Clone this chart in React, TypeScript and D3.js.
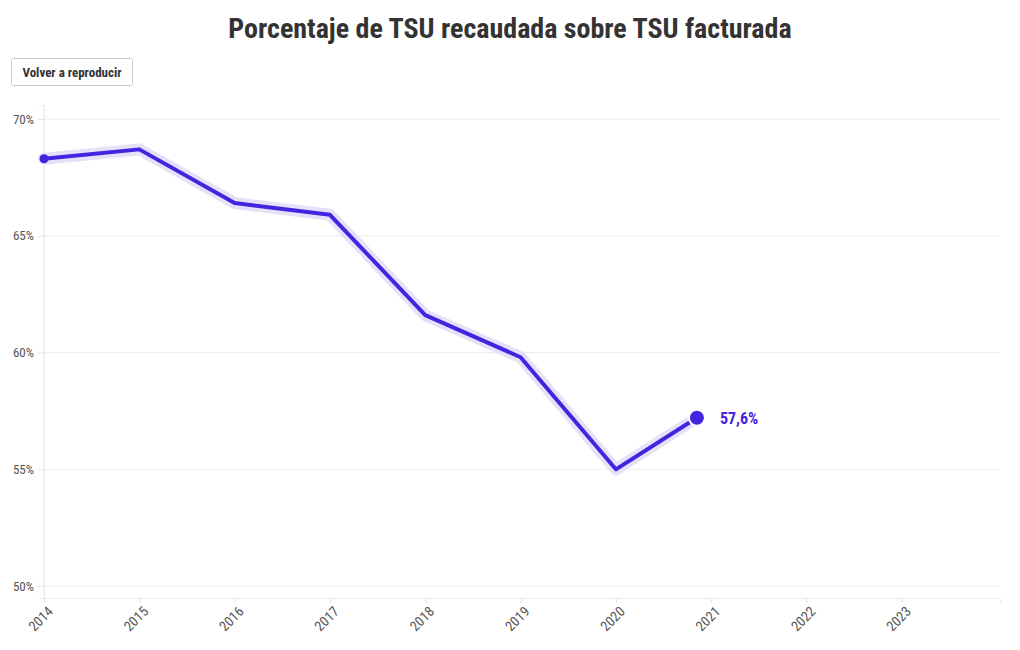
import * as d3 from 'd3';
import React, { useEffect, useRef } from 'react';

const years = [2014, 2015, 2016, 2017, 2018, 2019, 2020, 2021];
const recaudado = [68.3, 68.7, 66.4, 65.9, 61.6, 59.8, 55.0, 57.6];
const yTicks = [50, 55, 60, 65, 70];
const xTicks = [2014, 2015, 2016, 2017, 2018, 2019, 2020, 2021, 2022, 2023];
// the replay animation is caught part way into the last segment
const progress = 0.85;

const FONT = "'Roboto Condensed', 'Liberation Sans Narrow', 'DejaVu Sans Condensed', Roboto, sans-serif";
const LINE = '#4524e0';

const App = () => {
    const ref = useRef(null);
    const width = 1020, height = 650;
    const margin = { top: 105, right: 20, bottom: 52, left: 44 };

    useEffect(() => {
        const svg = d3.select(ref.current);
        svg.selectAll('*').remove();

        const x = d3.scaleLinear().domain([2014, 2024.03]).range([margin.left, width - margin.right]);
        const y = d3.scaleLinear().domain([49.49, 70.6]).range([height - margin.bottom, margin.top]);

        // title
        svg.append('text')
            .attr('x', 510).attr('y', 38)
            .attr('text-anchor', 'middle')
            .attr('font-family', FONT).attr('font-weight', 700).attr('font-size', 28)
            .attr('fill', '#333')
            .text('Porcentaje de TSU recaudada sobre TSU facturada');

        // replay button
        const btn = svg.append('g').attr('transform', 'translate(11,58)');
        btn.append('rect').attr('x', 0.5).attr('y', 0.5).attr('width', 121).attr('height', 27)
            .attr('rx', 2).attr('fill', '#fff').attr('stroke', '#c8c8c8');
        btn.append('text').attr('x', 61).attr('y', 18.5).attr('text-anchor', 'middle')
            .attr('font-family', FONT).attr('font-weight', 700).attr('font-size', 13).attr('fill', '#333')
            .text('Volver a reproducir');

        // grid
        const grid = svg.append('g');
        grid.selectAll('line').data(yTicks).enter().append('line')
            .attr('x1', margin.left).attr('x2', width - margin.right)
            .attr('y1', d => y(d)).attr('y2', d => y(d))
            .attr('stroke', '#ececec');

        // y axis
        const yAxis = svg.append('g').attr('transform', `translate(${margin.left},0)`)
            .call(d3.axisLeft(y).tickValues(yTicks).tickSize(6).tickPadding(4).tickFormat(d => d + '%'));
        yAxis.select('.domain').attr('stroke', '#ececec');
        yAxis.selectAll('.tick line').attr('stroke', '#e2e2e2');
        yAxis.selectAll('.tick text').attr('font-family', FONT).attr('font-size', 13).attr('fill', '#555');
        svg.append('line').attr('x1', margin.left).attr('x2', margin.left)
            .attr('y1', margin.top).attr('y2', height - margin.bottom).attr('stroke', '#ececec');

        // x axis
        const xAxis = svg.append('g').attr('transform', `translate(0,${height - margin.bottom})`)
            .call(d3.axisBottom(x).tickValues(xTicks).tickSize(5).tickFormat(d3.format('d')));
        xAxis.select('.domain').attr('stroke', '#ececec');
        xAxis.selectAll('.tick line').attr('stroke', '#e2e2e2');
        xAxis.selectAll('.tick text')
            .attr('font-family', FONT).attr('font-size', 14).attr('fill', '#555')
            .attr('text-anchor', 'end')
            .attr('x', 0).attr('y', 0).attr('dy', '0.35em')
            .attr('transform', 'translate(6,11) rotate(-45)');

        // partial line
        const pts = years.map((yr, i) => [yr, recaudado[i]]);
        const n = pts.length;
        const a = pts[n - 2], b = pts[n - 1];
        const end = [a[0] + (b[0] - a[0]) * progress, a[1] + (b[1] - a[1]) * progress];
        const shown = pts.slice(0, n - 1).concat([end]);

        const line = d3.line().x(d => x(d[0])).y(d => y(d[1]));
        svg.append('path').datum(shown).attr('d', line)
            .attr('fill', 'none').attr('stroke', '#e6e1fa').attr('stroke-width', 12)
            .attr('stroke-linejoin', 'round').attr('stroke-linecap', 'round');
        svg.append('path').datum(shown).attr('d', line)
            .attr('fill', 'none').attr('stroke', LINE).attr('stroke-width', 4)
            .attr('stroke-linejoin', 'round');

        svg.append('circle').attr('cx', x(pts[0][0])).attr('cy', y(pts[0][1])).attr('r', 4.5).attr('fill', LINE);
        svg.append('circle').attr('cx', x(end[0])).attr('cy', y(end[1])).attr('r', 8)
            .attr('fill', LINE).attr('stroke', '#fff').attr('stroke-width', 2);
        // label shows the final value of the series
        svg.append('text')
            .attr('x', x(end[0]) + 23).attr('y', y(end[1]) + 6)
            .attr('font-family', FONT).attr('font-weight', 700).attr('font-size', 16).attr('fill', LINE)
            .text(d3.format('.1f')(b[1]).replace('.', ',') + '%');
    }, []);

    return (
        <div style={{ position: 'absolute', left: 0, top: 0 }}>
            <svg ref={ref} width={width} height={height}></svg>
        </div>
    );
};

export default App;
